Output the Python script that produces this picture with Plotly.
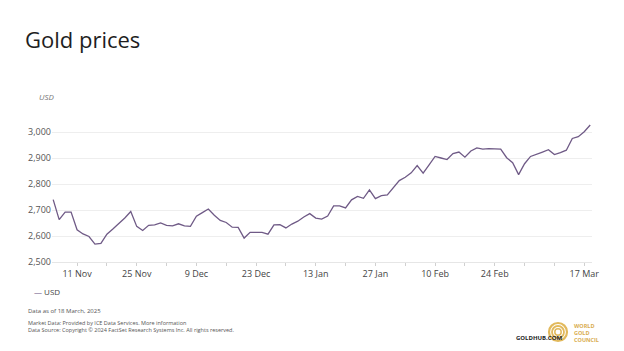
import plotly.graph_objects as go

series_name = "USD"
prices = [
    2740, 2663, 2692, 2692, 2624, 2608, 2598, 2569, 2572, 2607,
    2627, 2648, 2669, 2694, 2637, 2621, 2641, 2643, 2650, 2641,
    2639, 2647, 2639, 2637, 2676, 2690, 2704, 2680, 2660, 2652,
    2634, 2633, 2592, 2614, 2613, 2614, 2607, 2643, 2644, 2631,
    2646, 2657, 2673, 2686, 2669, 2665, 2677, 2716, 2716, 2708,
    2739, 2752, 2745, 2777, 2744, 2755, 2758, 2787, 2813, 2826,
    2843, 2871, 2842, 2874, 2906, 2900, 2894, 2917, 2923, 2903,
    2927, 2939, 2934, 2936, 2934, 2934, 2901, 2882, 2836, 2878,
    2906, 2916, 2923, 2932, 2913, 2921, 2930, 2975, 2982, 3001,
    3027,
]
x_index = list(range(len(prices)))

tick_positions = [4, 9, 14, 19, 24, 29, 34, 39, 44, 49, 54, 59, 64, 69, 74, 79, 84, 89]
tick_labels = ["11 Nov", "", "25 Nov", "", "9 Dec", "", "23 Dec", "", "13 Jan", "",
               "27 Jan", "", "10 Feb", "", "24 Feb", "", "", "17 Mar"]
y_ticks = [2500, 2600, 2700, 2800, 2900, 3000, 3100]
y_labels = ["2,500", "2,600", "2,700", "2,800", "2,900", "3,000", ""]

LINE = "#6f5a86"
FONT = "Open Sans"

fig = go.Figure()
fig.add_trace(go.Scatter(x=x_index, y=prices, mode="lines", name=series_name,
                         line=dict(color=LINE, width=1.3), showlegend=False,
                         hoverinfo="skip"))

fig.update_layout(
    width=624, height=351,
    margin=dict(l=52, r=32, t=106, b=89),
    paper_bgcolor="white", plot_bgcolor="white",
    font=dict(family=FONT, color="#444"),
    xaxis=dict(range=[-0.2, 90.3], tickmode="array", tickvals=tick_positions,
               ticktext=tick_labels, showgrid=False, zeroline=False,
               ticks="outside", ticklen=3, tickcolor="#d0d0d0", tickwidth=1,
               showline=True, linecolor="#e6e6e6", linewidth=1,
               tickfont=dict(size=9, color="#444", family=FONT)),
    yaxis=dict(range=[2500, 3100], tickmode="array", tickvals=y_ticks,
               ticktext=y_labels, showgrid=True, gridcolor="#eeeeee", gridwidth=1,
               zeroline=False, showline=False, ticks="",
               tickfont=dict(size=9, color="#555", family=FONT)),
)

ann = []
ann.append(dict(text="Gold prices", xref="paper", yref="paper", x=-0.053, y=1.0,
                xanchor="left", yanchor="middle", showarrow=False,
                font=dict(size=22, color="#1e1e1e", family=FONT),
                yshift=67))
ann.append(dict(text="<i>USD</i>", xref="paper", yref="paper", x=-0.028, y=1.0,
                xanchor="left", yanchor="middle", showarrow=False,
                font=dict(size=8, color="#777", family=FONT), yshift=10))
ann.append(dict(text="<span style='color:%s'>—</span> %s" % (LINE, series_name),
                xref="paper", yref="paper", x=-0.037, y=0, xanchor="left",
                yanchor="middle", showarrow=False,
                font=dict(size=8, color="#444", family=FONT), yshift=-29))
ann.append(dict(text="Data as of 18 March, 2025", xref="paper", yref="paper",
                x=-0.048, y=0, xanchor="left", yanchor="middle", showarrow=False,
                font=dict(size=6, color="#555", family=FONT), yshift=-49))
ann.append(dict(text="Market Data: Provided by ICE Data Services. More information<br>"
                     "Data Source: Copyright © 2024 FactSet Research Systems Inc. All rights reserved.",
                xref="paper", yref="paper", x=-0.048, y=0, xanchor="left",
                yanchor="middle", align="left", showarrow=False,
                font=dict(size=5.5, color="#555", family=FONT), yshift=-64))
ann.append(dict(text="<b>GOLDHUB.COM</b>", xref="paper", yref="paper",
                x=0.855, y=0, xanchor="left", yanchor="middle", showarrow=False,
                font=dict(size=6, color="#222", family=FONT), yshift=-76))
ann.append(dict(text="<b>WORLD<br>GOLD<br>COUNCIL</b>", xref="paper", yref="paper",
                x=0.963, y=0, xanchor="left", yanchor="middle", align="left",
                showarrow=False, font=dict(size=5.5, color="#d9ad4f", family=FONT),
                yshift=-71))
fig.update_layout(annotations=ann)

# logo rings
cx, cy = 558, 332
shapes = []
for r, w in [(9, 2.2), (6, 1.8), (3.2, 1.5)]:
    shapes.append(dict(type="circle", xref="paper", yref="paper",
                       x0=(cx - r - 52) / 540, x1=(cx + r - 52) / 540,
                       y0=(262 - (cy + r)) / 156, y1=(262 - (cy - r)) / 156,
                       line=dict(color="#e2b95c", width=w)))
fig.update_layout(shapes=shapes)

fig.write_html("out.html")
